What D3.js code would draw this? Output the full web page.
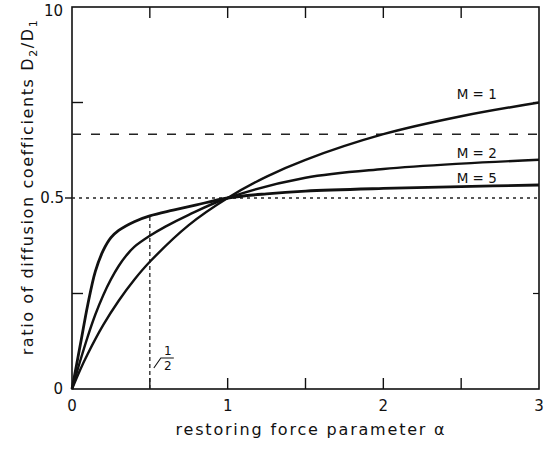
<!DOCTYPE html>
<html>
<head>
<meta charset="utf-8">
<script src="https://d3js.org/d3.v7.min.js"></script>
<style>
  body { margin: 0; background: #fff; }
  text { font-family: "DejaVu Sans", sans-serif; fill: #111; }
</style>
</head>
<body>
<div id="chart"></div>
<script>
// values
var alphaM1 = [0, 0.05, 0.1, 0.2, 0.3, 0.4, 0.5, 0.75, 1, 1.25, 1.5, 2, 2.5, 3];
var ratioM1 = [0, 0.048, 0.091, 0.167, 0.231, 0.286, 0.333, 0.429, 0.5, 0.556, 0.6, 0.667, 0.714, 0.75];

var alphaM2 = [0, 0.05, 0.1, 0.15, 0.2, 0.25, 0.3, 0.35, 0.4, 0.5, 0.6, 0.75, 1, 1.5, 2, 2.5, 3];
var ratioM2 = [0, 0.07, 0.136, 0.195, 0.245, 0.287, 0.322, 0.35, 0.372, 0.401, 0.425, 0.456, 0.5, 0.553, 0.576, 0.59, 0.6];

var alphaM5 = [0, 0.03, 0.06, 0.1, 0.15, 0.2, 0.25, 0.3, 0.4, 0.5, 0.65, 0.8, 1, 1.25, 1.5, 2, 2.5, 3];
var ratioM5 = [0, 0.065, 0.13, 0.218, 0.308, 0.362, 0.396, 0.415, 0.438, 0.453, 0.468, 0.482, 0.5, 0.511, 0.518, 0.525, 0.53, 0.534];

var curveLabels = ["M = 1", "M = 2", "M = 5"];
var xTickLabels = ["0", "1", "2", "3"];
var yTickLabels = ["0", "0.5", "10"];
var dashedLevel = 0.667;   // long dashes
var dottedLevel = 0.5;     // fine dots
var halfAlpha = 0.5;       // vertical dashed marker
var halfRatioM5 = 0.453;   // where the marker stops

var margin = {left: 72, top: 7, right: 11, bottom: 60};
var W = 550, H = 449;
var w = W - margin.left - margin.right, h = H - margin.top - margin.bottom;

var svg = d3.select("#chart").append("svg").attr("width", W).attr("height", H);
var g = svg.append("g").attr("transform", "translate(" + margin.left + "," + margin.top + ")");

var x = d3.scaleLinear().domain([0, 3]).range([0, w]);
var y = d3.scaleLinear().domain([0, 1]).range([h, 0]);

// frame
g.append("rect").attr("width", w).attr("height", h)
  .attr("fill", "none").attr("stroke", "#111").attr("stroke-width", 1.6);

// inner ticks
var xt = [0.5, 1, 1.5, 2, 2.5];
g.selectAll(".tb").data(xt).enter().append("line")
  .attr("x1", x).attr("x2", x).attr("y1", h).attr("y2", h - 11)
  .attr("stroke", "#111").attr("stroke-width", 1.4);
g.selectAll(".tt").data(xt).enter().append("line")
  .attr("x1", x).attr("x2", x).attr("y1", 0).attr("y2", 11)
  .attr("stroke", "#111").attr("stroke-width", 1.4);
var yt = [0.25, 0.75];
g.selectAll(".tl").data(yt).enter().append("line")
  .attr("x1", 0).attr("x2", 11).attr("y1", y).attr("y2", y)
  .attr("stroke", "#111").attr("stroke-width", 1.4);
g.selectAll(".tr").data(yt).enter().append("line")
  .attr("x1", w).attr("x2", w - 6).attr("y1", y).attr("y2", y)
  .attr("stroke", "#111").attr("stroke-width", 1.2);
g.append("line").attr("x1", -7).attr("x2", 0).attr("y1", y(0.5)).attr("y2", y(0.5))
  .attr("stroke", "#111").attr("stroke-width", 1.4);

// tick labels
g.selectAll(".xl").data(xTickLabels).enter().append("text")
  .attr("x", function (d, i) { return x(i); }).attr("y", h + 22)
  .attr("text-anchor", "middle").style("font-size", "15px").text(function (d) { return d; });
var yv = [0, 0.5, 1];
g.selectAll(".yl").data(yTickLabels).enter().append("text")
  .attr("x", function (d, i) { return i == 1 ? -8 : -9; })
  .attr("y", function (d, i) { return y(yv[i]) + (i == 2 ? 9 : 5); })
  .attr("text-anchor", "end").style("font-size", "15px").text(function (d) { return d; });

// reference lines
g.append("line").attr("x1", x(0)).attr("x2", x(3)).attr("y1", y(dashedLevel)).attr("y2", y(dashedLevel))
  .attr("stroke", "#222").attr("stroke-width", 1.5).attr("stroke-dasharray", "9,10");
g.append("line").attr("x1", x(0)).attr("x2", x(3)).attr("y1", y(dottedLevel)).attr("y2", y(dottedLevel))
  .attr("stroke", "#222").attr("stroke-width", 1.3).attr("stroke-dasharray", "3,4");
g.append("line").attr("x1", x(halfAlpha)).attr("x2", x(halfAlpha)).attr("y1", y(0)).attr("y2", y(halfRatioM5))
  .attr("stroke", "#222").attr("stroke-width", 1.3).attr("stroke-dasharray", "4,3");

// curves
var line = d3.line().x(function (d) { return x(d[0]); }).y(function (d) { return y(d[1]); })
  .curve(d3.curveCatmullRom.alpha(0.5));
var series = [d3.zip(alphaM1, ratioM1), d3.zip(alphaM2, ratioM2), d3.zip(alphaM5, ratioM5)];
g.selectAll(".curve").data(series).enter().append("path")
  .attr("d", line).attr("fill", "none").attr("stroke", "#111")
  .attr("stroke-width", function (d, i) { return i == 2 ? 2.8 : 2.4; });

// curve labels, sitting on their curves near alpha = 2.6
var labelY = [0.742, 0.598, 0.532];
var labelGap = [7, 3, 3];
g.selectAll(".ml").data(curveLabels).enter().append("text")
  .attr("x", x(2.6)).attr("y", function (d, i) { return y(labelY[i]) - labelGap[i]; })
  .attr("text-anchor", "middle").style("font-size", "13.5px").text(function (d) { return d; });

// 1/2 marker
var hx = x(halfAlpha);
g.append("path").attr("d", "M" + (hx + 4) + "," + (h - 21) + " L" + (hx + 11) + "," + (h - 31) + " L" + (hx + 24) + "," + (h - 31))
  .attr("fill", "none").attr("stroke", "#111").attr("stroke-width", 1.1);
g.append("text").attr("x", hx + 18).attr("y", h - 34).attr("text-anchor", "middle")
  .style("font-size", "12px").text("1");
g.append("text").attr("x", hx + 18).attr("y", h - 19).attr("text-anchor", "middle")
  .style("font-size", "12px").text("2");

// axis titles
svg.append("text").attr("x", 311).attr("y", 435)
  .attr("text-anchor", "middle").style("font-size", "16px").style("letter-spacing", "1.8px")
  .text("restoring force parameter α");
var yt2 = svg.append("text").attr("transform", "translate(33," + 187 + ") rotate(-90)")
  .attr("text-anchor", "middle").style("font-size", "16px").style("letter-spacing", "1.6px");
yt2.append("tspan").text("ratio of diffusion coefficients D");
yt2.append("tspan").attr("dy", 4).style("font-size", "11px").text("2");
yt2.append("tspan").attr("dy", -4).text("/D");
yt2.append("tspan").attr("dy", 4).style("font-size", "11px").text("1");
</script>
</body>
</html>
